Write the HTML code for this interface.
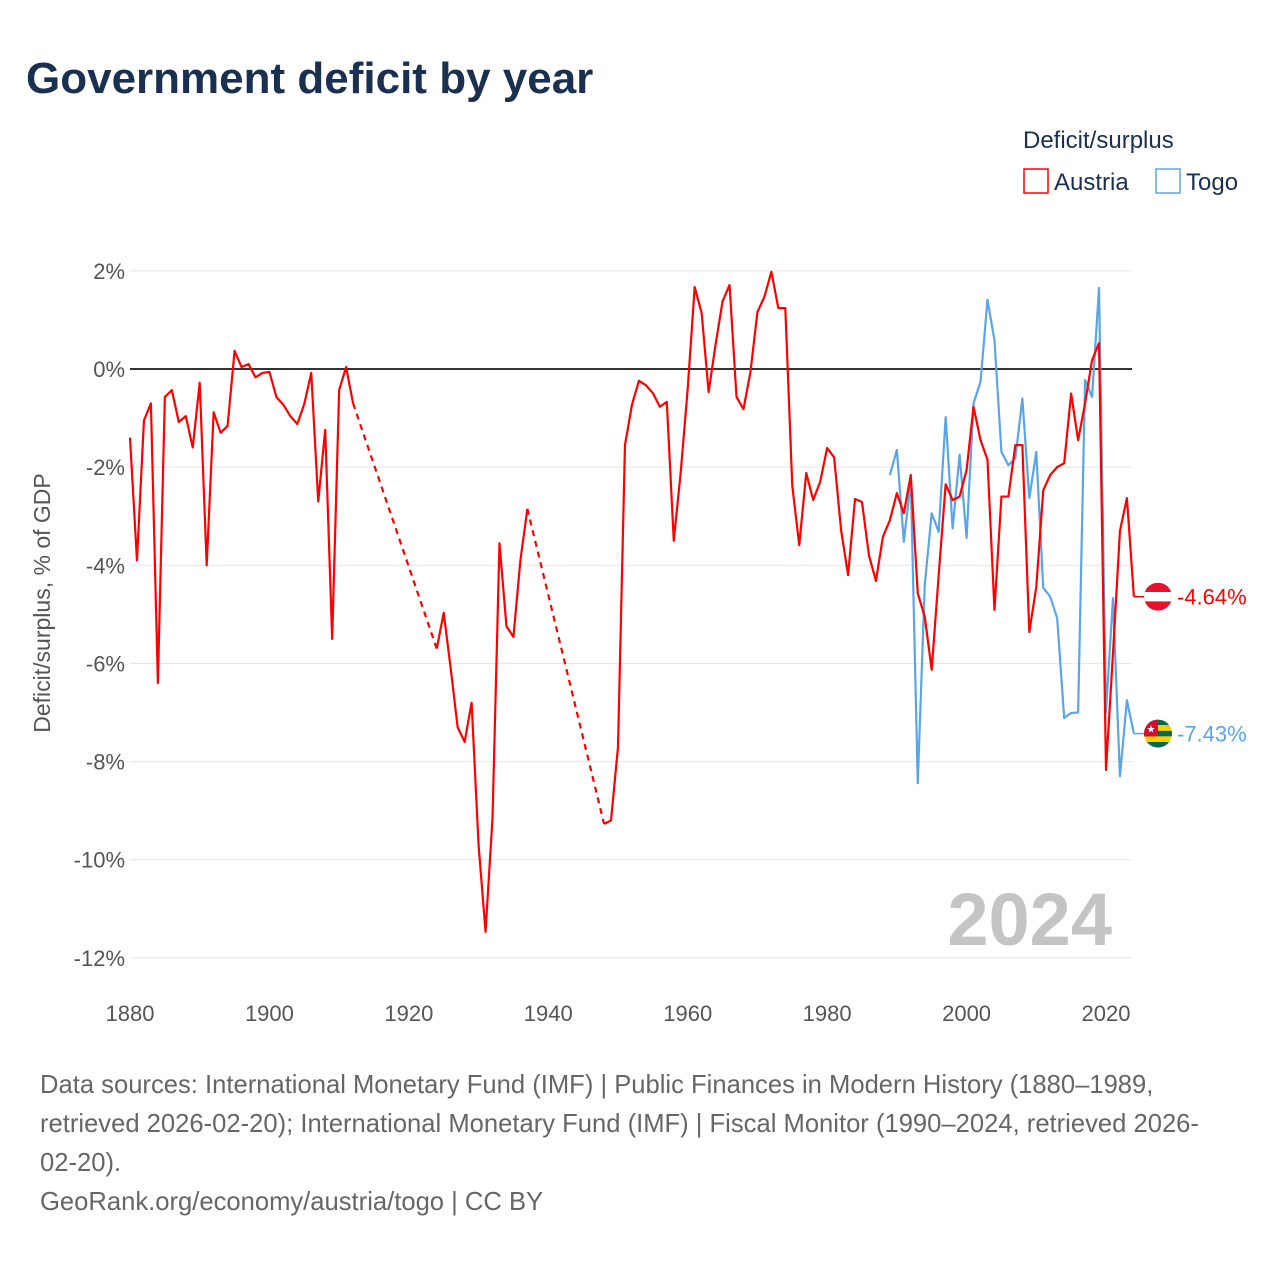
<!DOCTYPE html>
<html><head><meta charset="utf-8">
<style>
body{margin:0;background:#fff;font-family:"Liberation Sans",sans-serif;}
#wrap{position:relative;width:1280px;height:1280px;overflow:hidden;}
</style></head>
<body>
<div id="wrap">
<svg id="chart" width="1280" height="1280" xmlns="http://www.w3.org/2000/svg">
<text x="26" y="93" font-size="44" font-weight="bold" fill="#1a3050">Government deficit by year</text>
<text x="1023" y="148" font-size="24" fill="#1a3050">Deficit/surplus</text>
<g><rect x="1024" y="169" width="24" height="24" fill="none" stroke="#ff0000" stroke-width="1.5"/><text x="1054" y="190" font-size="24" fill="#1a3050">Austria</text></g>
<g><rect x="1156" y="169" width="24" height="24" fill="none" stroke="#5aa5e8" stroke-width="1.5"/><text x="1186" y="190" font-size="24" fill="#1a3050">Togo</text></g>
<text transform="translate(50,603) rotate(-90)" text-anchor="middle" font-size="23" fill="#555">Deficit/surplus, % of GDP</text>
<g id="grid"></g>
<text x="1112" y="945" text-anchor="end" font-size="74" font-weight="bold" fill="#c4c4c4">2024</text>
<g id="series"></g>
<g id="labels"></g>
<text font-size="25.6" fill="#666">
<tspan x="40" y="1093">Data sources: International Monetary Fund (IMF) | Public Finances in Modern History (1880–1989,</tspan>
<tspan x="40" y="1132">retrieved 2026-02-20); International Monetary Fund (IMF) | Fiscal Monitor (1990–2024, retrieved 2026-</tspan>
<tspan x="40" y="1171">02-20).</tspan>
<tspan x="40" y="1210">GeoRank.org/economy/austria/togo | CC BY</tspan>
</text>
</svg>
</div>
<script>
const yTicks=[2,0,-2,-4,-6,-8,-10,-12];
const xTicks=[1880,1900,1920,1940,1960,1980,2000,2020];
const austriaYears=[1880,1881,1882,1883,1884,1885,1886,1887,1888,1889,1890,1891,1892,1893,1894,1895,1896,1897,1898,1899,1900,1901,1902,1903,1904,1905,1906,1907,1908,1909,1910,1911,1912,1924,1925,1926,1927,1928,1929,1930,1931,1932,1933,1934,1935,1936,1937,1948,1949,1950,1951,1952,1953,1954,1955,1956,1957,1958,1959,1960,1961,1962,1963,1964,1965,1966,1967,1968,1969,1970,1971,1972,1973,1974,1975,1976,1977,1978,1979,1980,1981,1982,1983,1984,1985,1986,1987,1988,1989,1990,1991,1992,1993,1994,1995,1996,1997,1998,1999,2000,2001,2002,2003,2004,2005,2006,2007,2008,2009,2010,2011,2012,2013,2014,2015,2016,2017,2018,2019,2020,2021,2022,2023,2024];
const austriaValues=[-1.4,-3.9,-1.05,-0.7,-6.4,-0.57,-0.43,-1.08,-0.96,-1.6,-0.28,-4.0,-0.88,-1.3,-1.16,0.37,0.04,0.1,-0.17,-0.08,-0.06,-0.57,-0.73,-0.96,-1.12,-0.71,-0.08,-2.7,-1.24,-5.5,-0.43,0.04,-0.7,-5.7,-4.97,-6.1,-7.3,-7.6,-6.8,-9.7,-11.47,-9.15,-3.55,-5.24,-5.46,-3.9,-2.85,-9.27,-9.2,-7.7,-1.55,-0.73,-0.24,-0.33,-0.49,-0.77,-0.67,-3.5,-2.1,-0.4,1.67,1.14,-0.47,0.5,1.38,1.71,-0.57,-0.82,-0.06,1.16,1.47,1.98,1.24,1.24,-2.38,-3.59,-2.12,-2.67,-2.3,-1.61,-1.8,-3.28,-4.2,-2.65,-2.71,-3.8,-4.32,-3.42,-3.08,-2.53,-2.94,-2.16,-4.57,-5.05,-6.13,-4.2,-2.35,-2.67,-2.6,-2.06,-0.77,-1.45,-1.85,-4.91,-2.6,-2.6,-1.55,-1.55,-5.36,-4.44,-2.47,-2.16,-2.0,-1.92,-0.5,-1.45,-0.7,0.18,0.53,-8.17,-5.8,-3.3,-2.63,-4.64];
const togoYears=[1989,1990,1991,1992,1993,1994,1995,1996,1997,1998,1999,2000,2001,2002,2003,2004,2005,2006,2007,2008,2009,2010,2011,2012,2013,2014,2015,2016,2017,2018,2019,2020,2021,2022,2023,2024];
const togoValues=[-2.16,-1.65,-3.52,-2.26,-8.44,-4.4,-2.94,-3.32,-0.98,-3.25,-1.75,-3.44,-0.7,-0.26,1.41,0.59,-1.69,-1.96,-1.82,-0.6,-2.63,-1.69,-4.46,-4.64,-5.08,-7.11,-7.01,-7.0,-0.22,-0.57,1.65,-7.0,-4.67,-8.3,-6.75,-7.43];

const NS="http://www.w3.org/2000/svg";
const X=y=>130+(y-1880)*(976/140);
const Y=v=>369-v*(687/14);
function mk(tag,attrs,parent){const e=document.createElementNS(NS,tag);for(const k in attrs)e.setAttribute(k,attrs[k]);parent.appendChild(e);return e;}
const grid=document.getElementById('grid');
yTicks.forEach(t=>{
  const l=mk('line',{x1:130,x2:1132,y1:Y(t),y2:Y(t),stroke:t===0?'#333':'#e6e6e6','stroke-width':t===0?2:1},grid);
  
  
  const tx=mk('text',{x:125,y:Y(t)+8,'text-anchor':'end','font-size':22,fill:'#555'},grid);
  tx.textContent=t+'%';
  
  
});
xTicks.forEach(t=>{
  const tx=mk('text',{x:X(t),y:1021,'text-anchor':'middle','font-size':22,fill:'#555'},grid);
  tx.textContent=t;
  
  
});
const ser=document.getElementById('series');
function drawSeries(years,vals,color,name){
  let seg=[];const segs=[seg];
  for(let i=0;i<years.length;i++){
    if(i>0&&years[i]-years[i-1]>1){
      const d=mk('path',{d:`M${X(years[i-1])},${Y(vals[i-1])}L${X(years[i])},${Y(vals[i])}`,fill:'none',stroke:color,'stroke-width':2.2,'stroke-dasharray':'6,5'},ser);
      
      
      seg=[];segs.push(seg);
    }
    seg.push([X(years[i]),Y(vals[i])]);
  }
  segs.forEach(s=>{
    const p=mk('path',{d:'M'+s.map(q=>q.join(',')).join('L'),fill:'none',stroke:color,'stroke-width':2.2,'stroke-linejoin':'round'},ser);
    
    
  });
}
drawSeries(togoYears,togoValues,'#5aa5e8','togo');
drawSeries(austriaYears,austriaValues,'#ff0000','austria');

const lab=document.getElementById('labels');
function endLabel(years,vals,color,name,flag){
  const v=vals[vals.length-1],x0=X(years[years.length-1]),y=Y(v);
  const l=mk('line',{x1:x0,x2:1146,y1:y,y2:y,stroke:color,'stroke-width':1.5},lab);
  
  
  const g=mk('g',{},lab);
  
  
  flag(g,1158,y);
  const t=mk('text',{x:1177,y:y+8,'font-size':22,fill:color},lab);
  t.textContent=v.toFixed(2)+'%';
  
  
}
endLabel(austriaYears,austriaValues,'#ff0000','austria',(g,cx,cy)=>{
  const cp=mk('clipPath',{id:'ca'},g);mk('circle',{cx,cy,r:14},cp);
  const h=mk('g',{'clip-path':'url(#ca)'},g);
  mk('rect',{x:cx-14,y:cy-14,width:28,height:28,fill:'#e8112d'},h);
  mk('rect',{x:cx-14,y:cy-4.7,width:28,height:9.4,fill:'#fff'},h);
});
endLabel(togoYears,togoValues,'#5aa5e8','togo',(g,cx,cy)=>{
  const cp=mk('clipPath',{id:'ct'},g);mk('circle',{cx,cy,r:14},cp);
  const h=mk('g',{'clip-path':'url(#ct)'},g);
  for(let i=0;i<5;i++)mk('rect',{x:cx-14,y:cy-14+i*5.6,width:28,height:5.6,fill:i%2?'#ffce00':'#006a4e'},h);
  mk('rect',{x:cx-14,y:cy-14,width:14,height:16.8,fill:'#d21034'},h);
  mk('text',{x:cx-7,y:cy-1,'text-anchor':'middle','font-size':10,fill:'#fff'},h).textContent='★';
});
</script>
</body></html>
